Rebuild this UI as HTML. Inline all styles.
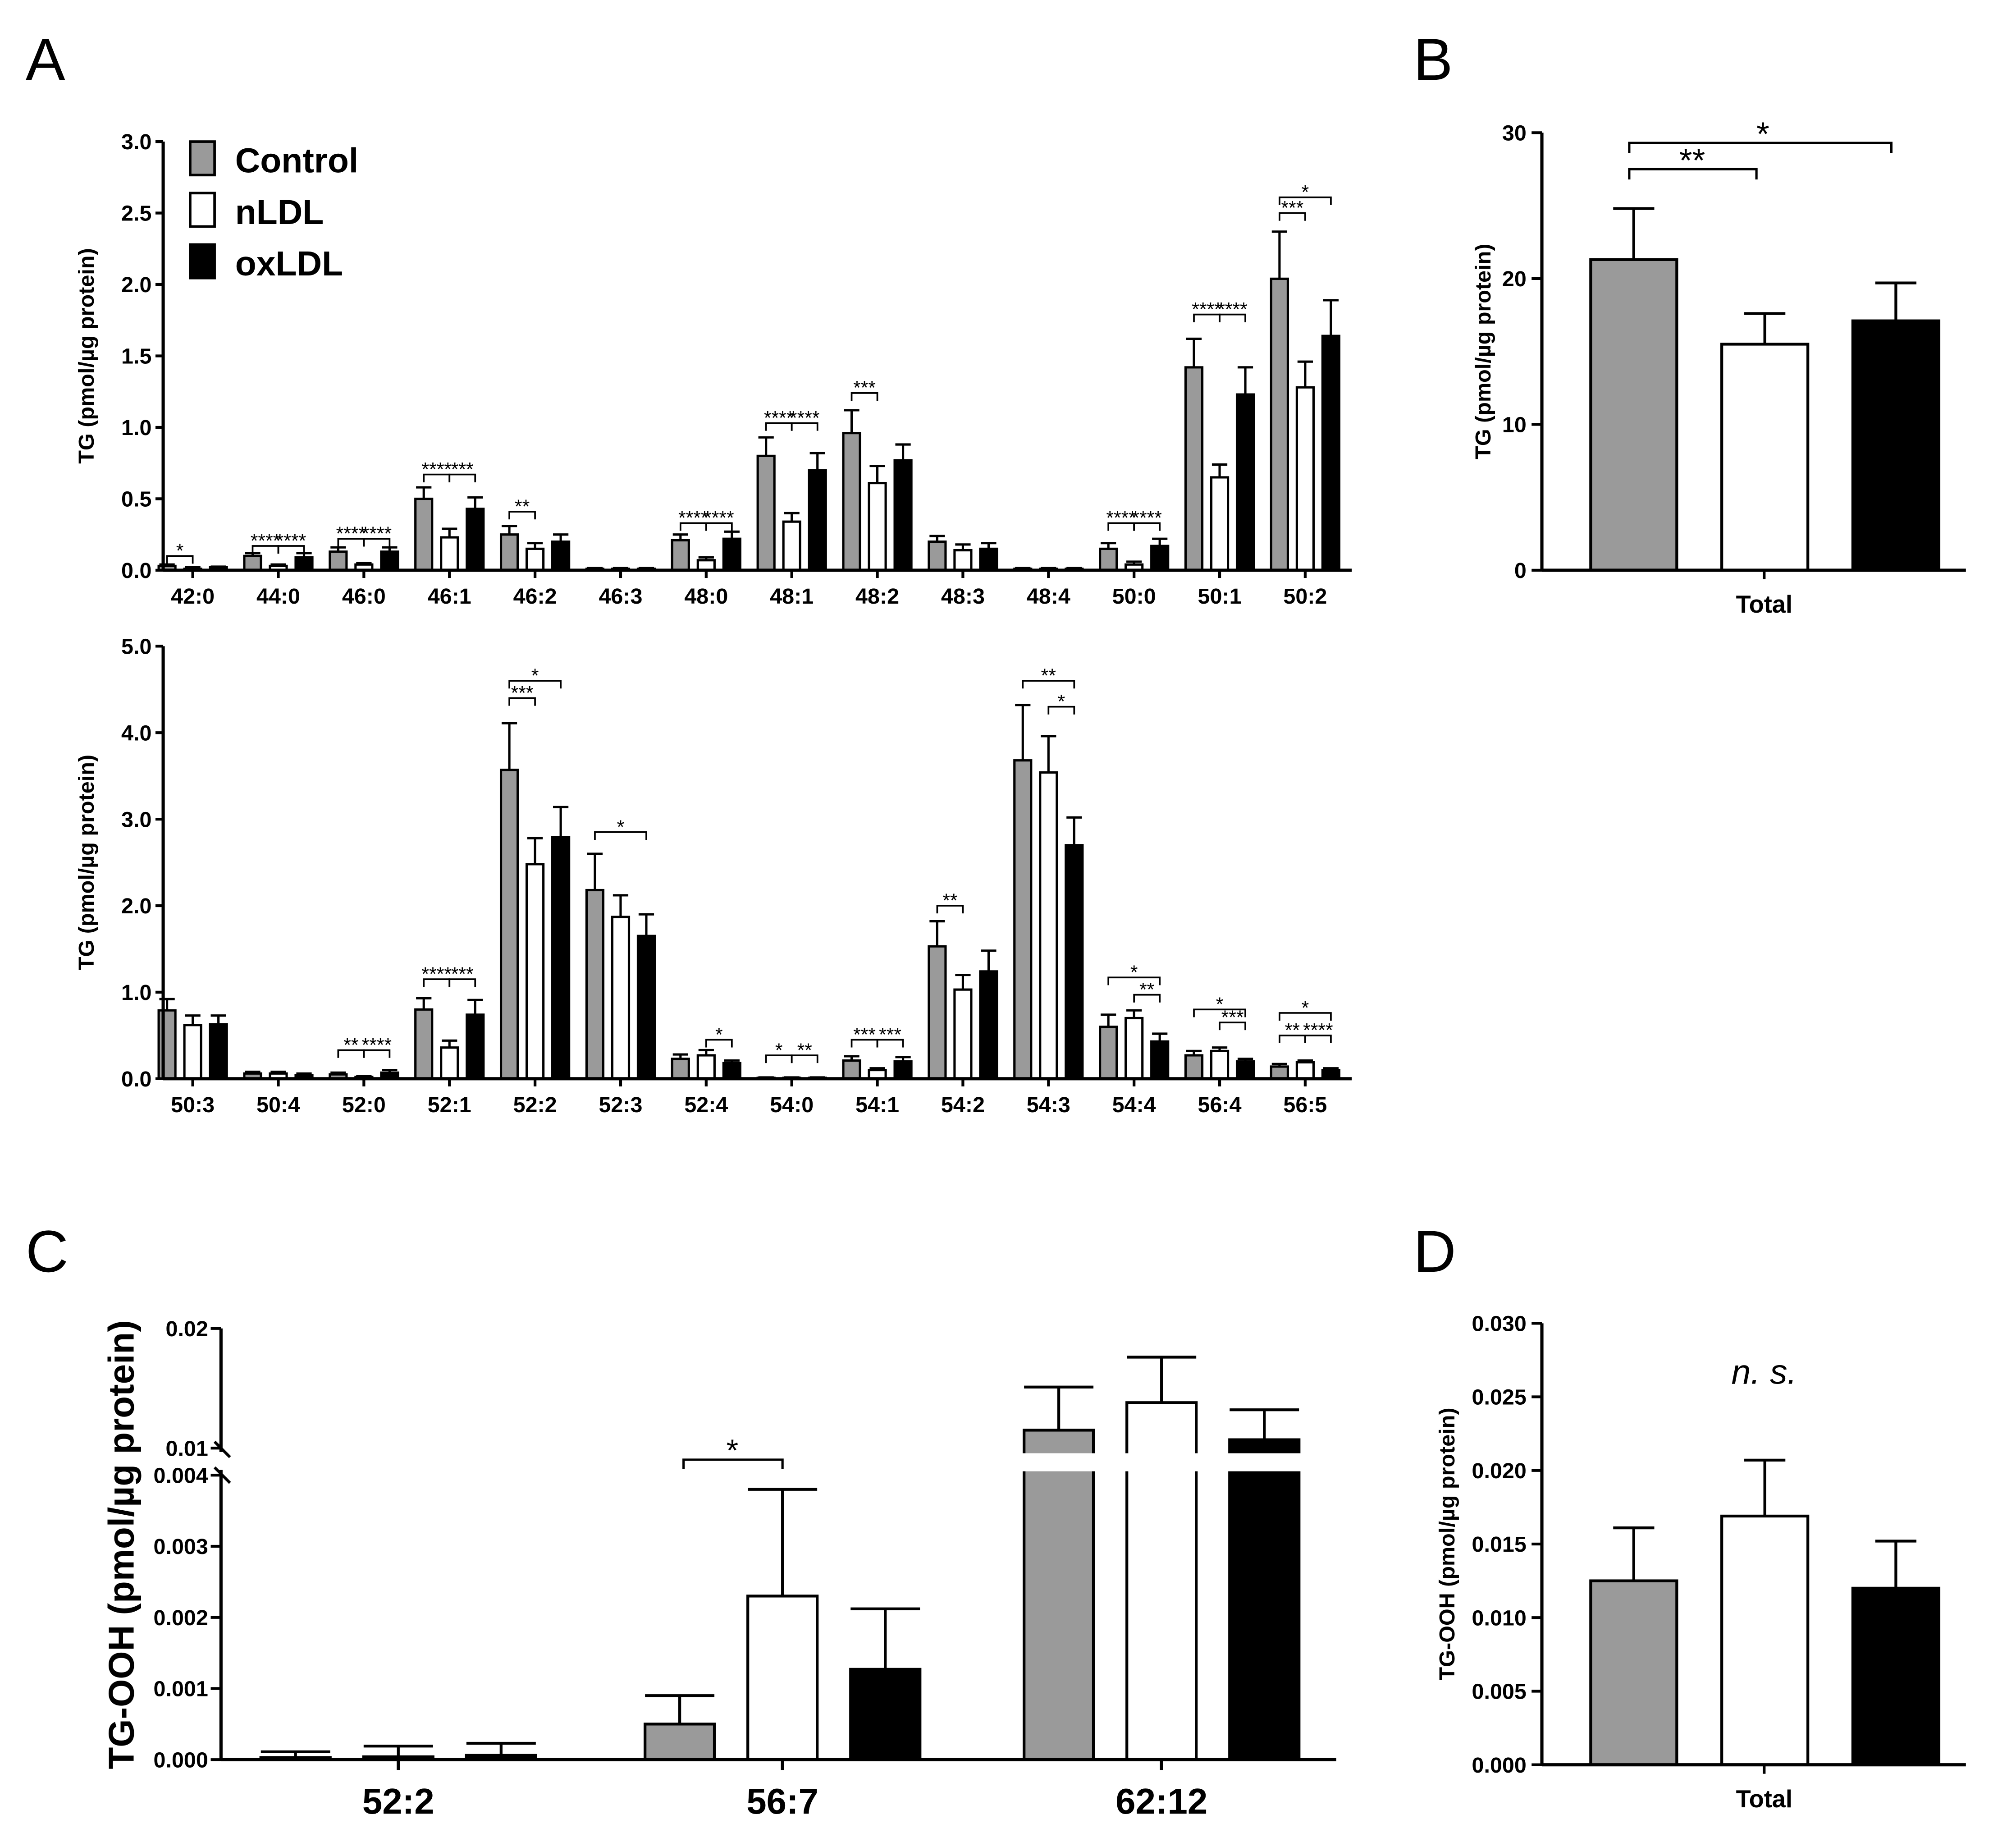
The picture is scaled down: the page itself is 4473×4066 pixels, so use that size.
<!DOCTYPE html>
<html><head><meta charset="utf-8"><style>
html,body{margin:0;padding:0;background:#fff}
svg{display:block}
text{font-family:"Liberation Sans",Arial,sans-serif;font-weight:bold;fill:#000}
text.nb{font-weight:normal}
</style></head><body>
<svg id="fig" width="4473" height="4066" viewBox="0 0 1569 1424" preserveAspectRatio="none" xmlns="http://www.w3.org/2000/svg"></svg>
<script>
// ---- Panel A top data ----
const topCats = ["42:0","44:0","46:0","46:1","46:2","46:3","48:0","48:1","48:2","48:3","48:4","50:0","50:1","50:2"];
const topControl = [0.03,0.10,0.13,0.50,0.25,0.01,0.21,0.80,0.96,0.20,0.01,0.15,1.42,2.04];
const topNLDL = [0.01,0.03,0.04,0.23,0.15,0.01,0.07,0.34,0.61,0.14,0.01,0.04,0.65,1.28];
const topOxLDL = [0.02,0.09,0.13,0.43,0.20,0.01,0.22,0.70,0.77,0.15,0.01,0.17,1.23,1.64];
const topControlErr = [0.01,0.02,0.03,0.08,0.06,0.005,0.04,0.13,0.16,0.04,0.005,0.04,0.20,0.33];
const topNLDLErr = [0.01,0.01,0.01,0.06,0.04,0.005,0.02,0.06,0.12,0.04,0.005,0.02,0.09,0.18];
const topOxLDLErr = [0.005,0.03,0.03,0.08,0.05,0.005,0.05,0.12,0.11,0.04,0.005,0.05,0.19,0.25];
const topTicks = ["0.0","0.5","1.0","1.5","2.0","2.5","3.0"];
// sig: [catIndex, fromBar, toBar, level, label]
const topSig = [[0,0,1,0.10,"*"],[1,0,1,0.17,"****"],[1,1,2,0.17,"****"],[2,0,1,0.22,"****"],[2,1,2,0.22,"****"],[3,0,1,0.67,"****"],[3,1,2,0.67,"***"],[4,0,1,0.41,"**"],[6,0,1,0.33,"****"],[6,1,2,0.33,"****"],[7,0,1,1.03,"****"],[7,1,2,1.03,"****"],[8,0,1,1.24,"***"],[11,0,1,0.33,"****"],[11,1,2,0.33,"****"],[12,0,1,1.79,"****"],[12,1,2,1.79,"****"],[13,0,1,2.5,"***"],[13,0,2,2.61,"*"]];
// ---- Panel A bottom data ----
const botCats = ["50:3","50:4","52:0","52:1","52:2","52:3","52:4","54:0","54:1","54:2","54:3","54:4","56:4","56:5"];
const botControl = [0.79,0.06,0.05,0.80,3.57,2.18,0.23,0.01,0.21,1.53,3.68,0.60,0.27,0.14];
const botNLDL = [0.62,0.06,0.02,0.36,2.48,1.87,0.27,0.01,0.10,1.03,3.54,0.70,0.32,0.19];
const botOxLDL = [0.63,0.04,0.07,0.74,2.79,1.65,0.18,0.01,0.20,1.24,2.70,0.43,0.20,0.10];
const botControlErr = [0.13,0.02,0.02,0.13,0.54,0.42,0.05,0.005,0.05,0.29,0.64,0.14,0.05,0.03];
const botNLDLErr = [0.11,0.02,0.01,0.08,0.30,0.25,0.06,0.005,0.02,0.17,0.42,0.09,0.04,0.02];
const botOxLDLErr = [0.10,0.02,0.03,0.17,0.35,0.25,0.03,0.005,0.05,0.24,0.32,0.09,0.03,0.02];
const botTicks = ["0.0","1.0","2.0","3.0","4.0","5.0"];
const botSig = [[2,0,1,0.33,"**"],[2,1,2,0.33,"****"],[3,0,1,1.15,"****"],[3,1,2,1.15,"***"],[4,0,1,4.4,"***"],[4,0,2,4.6,"*"],[5,0,2,2.85,"*"],[6,1,2,0.45,"*"],[7,0,1,0.27,"*"],[7,1,2,0.27,"**"],[8,0,1,0.45,"***"],[8,1,2,0.45,"***"],[9,0,1,2.0,"**"],[10,1,2,4.3,"*"],[10,0,2,4.6,"**"],[11,1,2,0.97,"**"],[11,0,2,1.17,"*"],[12,1,2,0.65,"***"],[12,0,2,0.8,"*"],[13,0,1,0.5,"**"],[13,1,2,0.5,"****"],[13,0,2,0.76,"*"]];
// ---- Panel B ----
const bVals = [21.3,15.5,17.1];
const bErr = [3.5,2.1,2.6];
const bTicks = [0,10,20,30];
// ---- Panel C ----
const cCats = ["52:2","56:7","62:12"];
const cControl = [0.00003,0.0005,0.0115];
const cNLDL = [0.00004,0.0023,0.0138];
const cOxLDL = [0.00006,0.00127,0.0107];
const cControlErr = [0.00008,0.0004,0.0036];
const cNLDLErr = [0.00015,0.0015,0.0038];
const cOxLDLErr = [0.00017,0.00085,0.0025];
const cLowTicks = ["0.000","0.001","0.002","0.003","0.004"];
const cHighTicks = ["0.01","0.02"];
// ---- Panel D ----
const dVals = [0.0125,0.0169,0.0120];
const dErr = [0.0036,0.0038,0.0032];
const dTicks = ["0.000","0.005","0.010","0.015","0.020","0.025","0.030"];

const NS="http://www.w3.org/2000/svg";
const svg=document.getElementById('fig');
const FILLS=["#9a9a9a","#ffffff","#000000"];
const SER=["control","nldl","oxldl"];
function el(tag,attrs,parent){const e=document.createElementNS(NS,tag);for(const k in attrs)e.setAttribute(k,attrs[k]);(parent||svg).appendChild(e);return e;}
function txt(x,y,s,size,anchor,parent,extra){const t=el('text',Object.assign({x:x,y:y,'font-size':size,'text-anchor':anchor||'middle'},extra||{}),parent);t.textContent=s;return t;}

function drawBar(g,x,w,y0,y1,fill,sw,name){
  const r=el('rect',{x:x,y:Math.min(y0,y1),width:w,height:Math.max(0.5,Math.abs(y0-y1)),fill:fill,stroke:'#000','stroke-width':sw},g);
  
  
}
function drawErr(g,cx,yTop,yErr,cap,sw){
  el('line',{x1:cx,y1:yTop,x2:cx,y2:yErr,stroke:'#000','stroke-width':sw},g);
  el('line',{x1:cx-cap,y1:yErr,x2:cx+cap,y2:yErr,stroke:'#000','stroke-width':sw},g);
}

function groupedPanel(opts){
  const g=el('g',{});
  
  
  const y=v=>opts.y0-v*opts.scale;
  const cx=i=>opts.x0+opts.firstC+i*opts.step;
  const series=[opts.s0,opts.s1,opts.s2], errs=[opts.e0,opts.e1,opts.e2];
  opts.cats.forEach((c,i)=>{
    for(let s=0;s<3;s++){
      const bx=cx(i)+(s-1)*opts.pitch-opts.bw/2;
      drawErr(g,bx+opts.bw/2,y(series[s][i]),y(series[s][i]+errs[s][i]),opts.cap,1.8);
      drawBar(g,bx,opts.bw,opts.y0,y(series[s][i]),FILLS[s],1.8,'bar-'+SER[s]+'-'+c.replace(':','-'));
    }
    el('line',{x1:cx(i),y1:opts.y0,x2:cx(i),y2:opts.y0+6,stroke:'#000','stroke-width':2.2},g);
    const t=txt(cx(i),opts.y0+26,c,17,'middle',g);
    
    
  });
  el('line',{x1:opts.x0,y1:opts.y0,x2:opts.x1,y2:opts.y0,stroke:'#000','stroke-width':2.5},g);
  el('line',{x1:opts.x0,y1:opts.y0+1,x2:opts.x0,y2:y(opts.max),stroke:'#000','stroke-width':2.5},g);
  opts.ticks.forEach(t=>{
    const v=parseFloat(t);
    el('line',{x1:opts.x0-6,y1:y(v),x2:opts.x0,y2:y(v),stroke:'#000','stroke-width':2.2},g);
    txt(opts.x0-9,y(v)+6,t,17,'end',g);
  });
  opts.sig.forEach(s=>{
    const i=s[0];const xa=cx(i)+(s[1]-1)*opts.pitch, xb=cx(i)+(s[2]-1)*opts.pitch;const yy=y(s[3]);
    el('path',{d:`M${xa} ${yy+6}V${yy}H${xb}V${yy+6}`,fill:'none',stroke:'#000','stroke-width':1.3},g);
    txt((xa+xb)/2,yy+1,s[4],15,'middle',g,{class:'nb'});
  });
  const yt=txt(0,0,opts.ytitle,17,'middle',g,{transform:`translate(${opts.x0-54},${(opts.y0+y(opts.max))/2}) rotate(-90)`});
  
  
}

groupedPanel({name:'panel-a-top',cats:topCats,s0:topControl,s1:topNLDL,s2:topOxLDL,e0:topControlErr,e1:topNLDLErr,e2:topOxLDLErr,ticks:topTicks,sig:topSig,x0:127,x1:1052,y0:443,scale:111,max:3.0,firstC:23,step:66.6,pitch:20,bw:13,cap:6,ytitle:'TG (pmol/µg protein)'});
groupedPanel({name:'panel-a-bottom',cats:botCats,s0:botControl,s1:botNLDL,s2:botOxLDL,e0:botControlErr,e1:botNLDLErr,e2:botOxLDLErr,ticks:botTicks,sig:botSig,x0:127,x1:1052,y0:838,scale:67.2,max:5.0,firstC:23,step:66.6,pitch:20,bw:13,cap:6,ytitle:'TG (pmol/µg protein)'});

// legend
const leg=el('g',{});


["Control","nLDL","oxLDL"].forEach((n,i)=>{
  const yy=110+i*40;
  el('rect',{x:148,y:yy,width:19,height:26,fill:FILLS[i],stroke:'#000','stroke-width':2},leg);
  const t=txt(183,yy+24,n,27,'start',leg);
  
  
});

// simple panel (B, D)
function simplePanel(o){
  const g=el('g',{});
  
  
  const y=v=>o.y0-v*o.scale;
  const xs=[1238,1340,1442];
  o.vals.forEach((v,i)=>{
    drawErr(g,xs[i]+33.5,y(v),y(v+o.err[i]),16,2.2);
    drawBar(g,xs[i],67,o.y0,y(v),FILLS[i],2.2,'bar-'+SER[i]+'-total');
  });
  el('line',{x1:1200,y1:o.y0,x2:1530,y2:o.y0,stroke:'#000','stroke-width':2.5},g);
  el('line',{x1:1200,y1:o.y0+1,x2:1200,y2:y(o.max),stroke:'#000','stroke-width':2.5},g);
  el('line',{x1:1373,y1:o.y0,x2:1373,y2:o.y0+7,stroke:'#000','stroke-width':2.2},g);
  o.ticks.forEach(t=>{const v=parseFloat(t);
    el('line',{x1:1192,y1:y(v),x2:1200,y2:y(v),stroke:'#000','stroke-width':2.2},g);
    txt(1188,y(v)+6,String(t),17,'end',g);});
  const xl=txt(1373,o.y0+33,'Total',19,'middle',g);
  
  
  const yt=txt(0,0,o.ytitle,17,'middle',g,{transform:`translate(${o.ytx},${(o.y0+y(o.max))/2}) rotate(-90)`});
  
  
  return {g,y};
}
const pb=simplePanel({name:'panel-b',vals:bVals,err:bErr,ticks:bTicks,y0:443,scale:11.33,max:30,ytitle:'TG (pmol/µg protein)',ytx:1160});
el('path',{d:`M1268 ${pb.y(27.5)+8}V${pb.y(27.5)}H1367V${pb.y(27.5)+8}`,fill:'none',stroke:'#000','stroke-width':1.8},pb.g);
txt(1317,pb.y(27.5)+2,'**',26,'middle',pb.g,{class:'nb'});
el('path',{d:`M1268 ${pb.y(29.3)+8}V${pb.y(29.3)}H1472V${pb.y(29.3)+8}`,fill:'none',stroke:'#000','stroke-width':1.8},pb.g);
txt(1372,pb.y(29.3)+2,'*',26,'middle',pb.g,{class:'nb'});

const pd=simplePanel({name:'panel-d',vals:dVals,err:dErr,ticks:dTicks,y0:1371,scale:11433,max:0.030,ytitle:'TG-OOH (pmol/µg protein)',ytx:1132});
const ns=txt(1373,1075,'n. s.',27,'middle',pd.g,{class:'nb','font-style':'italic'});



// Panel C (broken axis)
(function(){
  const g=el('g',{});
  
  
  const x0=172, y0=1367;
  const yLow=v=>y0-v*55250;           // 0..0.004
  const yHigh=v=>1125-(v-0.01)*9300;  // 0.01..0.02
  const yv=v=>v<=0.004?yLow(v):(v<0.01?yLow(0.004):yHigh(v));
  const centers=[310,609,904];
  const S=[cControl,cNLDL,cOxLDL],E=[cControlErr,cNLDLErr,cOxLDLErr];
  cCats.forEach((c,i)=>{
    for(let s=0;s<3;s++){
      const bx=centers[i]+(s-1)*80-27;
      const v=S[s][i], top=v+E[s][i];
      drawErr(g,bx+27,yv(v),yv(top),27,2.2);
      drawBar(g,bx,54,y0,yv(v),FILLS[s],2.2,'bar-'+SER[s]+'-'+c.replace(':','-'));
    }
    el('line',{x1:centers[i],y1:y0,x2:centers[i],y2:y0+8,stroke:'#000','stroke-width':2.5},g);
    const t=txt(centers[i],y0+42,c,28,'middle',g);
    
    
  });
  el('rect',{x:x0+3,y:1129,width:880,height:14,fill:'#fff'},g);
  el('line',{x1:x0,y1:y0,x2:1040,y2:y0,stroke:'#000','stroke-width':2.5},g);
  el('line',{x1:x0,y1:y0,x2:x0,y2:yLow(0.004)-4,stroke:'#000','stroke-width':2.5},g);
  el('line',{x1:x0,y1:1128,x2:x0,y2:yHigh(0.02),stroke:'#000','stroke-width':2.5},g);
  el('line',{x1:x0-5,y1:1120,x2:x0+7,y2:1132,stroke:'#000','stroke-width':2.2},g);
  el('line',{x1:x0-5,y1:1140,x2:x0+7,y2:1152,stroke:'#000','stroke-width':2.2},g);
  cLowTicks.forEach(t=>{const v=parseFloat(t);
    el('line',{x1:x0-8,y1:yLow(v),x2:x0,y2:yLow(v),stroke:'#000','stroke-width':2.2},g);
    txt(x0-10,yLow(v)+6,t,17,'end',g);});
  cHighTicks.forEach(t=>{const v=parseFloat(t);
    el('line',{x1:x0-8,y1:yHigh(v),x2:x0,y2:yHigh(v),stroke:'#000','stroke-width':2.2},g);
    txt(x0-10,yHigh(v)+6,t,17,'end',g);});
  const yt=txt(0,0,'TG-OOH (pmol/µg protein)',28,'middle',g,{transform:`translate(104,1200) rotate(-90)`});
  
  
  el('path',{d:'M532 1141V1134H609V1141',fill:'none',stroke:'#000','stroke-width':1.8},g);
  txt(570,1135,'*',24,'middle',g,{class:'nb'});
})();

// panel letters
[["A",20,62],["B",1100,62],["C",20,988],["D",1100,988]].forEach(l=>{
  const t=txt(l[1],l[2],l[0],46,'start',svg,{class:'nb'});
  
  
});
</script>
</body></html>
